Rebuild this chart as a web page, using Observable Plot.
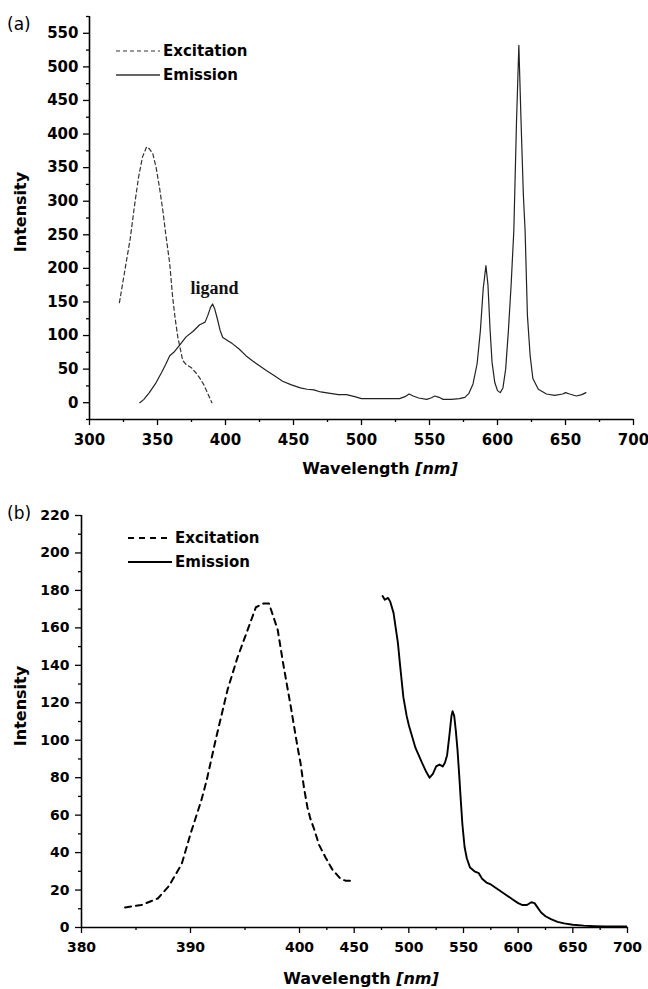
<!DOCTYPE html>
<html><head><meta charset="utf-8">
<script src="https://cdn.jsdelivr.net/npm/d3@7"></script>
<script src="https://cdn.jsdelivr.net/npm/@observablehq/plot@0.6"></script>
<style>
body{margin:0;background:#fff;}
#wrap{width:648px;}
#wrap svg{display:block;}
</style></head><body><div id="wrap"></div>
<script>
// ---------- Panel (a) data: [wavelength nm, intensity] ----------
const excitationA = [[322,149],[326,197],[330,245],[333,292],[336,335],[339,366],[342,381],[344,378],[346.5,371],[349,350],[351.5,320],[354,285],[356,252],[359,207],[361,160],[363,125],[365,97],[367,78],[368.5,63],[371,57],[375,52],[378,45],[381,37],[384,27],[386,18],[388,9],[390,0]];
const emissionA = [[337,0],[340,5],[344,15],[349,30],[353,45],[356,57],[359,70],[362,75],[366,85],[371,98],[376,106],[379,112],[381,116],[383,118],[385,120],[387,130],[389,142],[390.5,147],[392,140],[394,125],[396,108],[398,97],[402,92],[405,88],[410,80],[415,70],[420,62],[425,55],[430,48],[436,40],[442,32],[448,27],[455,22],[460,20],[465,19],[470,16],[477,14],[483,12],[489,12],[495,9],[500,6],[510,6],[520,6],[528,6],[532,9],[535,13],[538,10],[542,7],[548,5],[551,7],[554,10],[557,8],[560,5],[566,5],[572,6],[576,8],[579,14],[582,28],[585,58],[587.4,107],[589.5,170],[591.5,204],[593,175],[594.5,110],[596,60],[598,30],[600,18],[602,15],[604,22],[606,50],[608,107],[610,175],[612,256],[614,420],[615.7,532],[617.3,420],[619,310],[620.3,256],[622,130],[624,70],[626,36],[630,20],[636,13],[642,11],[648,13],[650,15],[653,13],[658,10],[662,12],[665,15]];
const annotationA = [{wavelength: 392, intensity: 170, label: "ligand"}];
const xMajorA = [300,350,400,450,500,550,600,650,700];
const xMinorA = [325,375,425,475,525,575,625,675];
const yMajorA = [0,50,100,150,200,250,300,350,400,450,500,550];
const yMinorA = [-25,25,75,125,175,225,275,325,375,425,475,525,575];

// ---------- Panel (b) data ----------
const excitationB = [[384,10.7],[385.5,12],[387,15.5],[388,22],[389.2,34],[390,50],[391,68],[391.5,79],[392.3,100],[393.4,127],[394.3,144],[395.5,163],[396,171],[396.7,173],[397.2,173],[398,159],[398.5,141],[399.2,118],[399.8,97],[400.9,88],[404,75],[407.3,64],[410,58],[412.8,53.5],[418,44],[423.8,37.4],[430,31],[437.5,26],[442,25],[449.4,25]];
const emissionB = [[476,177],[478,175],[481,176],[483,174],[486,168],[488,160],[490,152],[492,140],[495,123],[498,113],[500,108],[503,102],[506,96],[509,92],[512,88],[516,83],[519,80],[522,82],[525,86],[528,87],[531,86],[533,88],[535,92],[537,102],[539,113],[540,115.5],[541.5,113],[543,105],[544.5,95],[546,82],[547.5,68],[549,55],[551,43],[553,37],[556,32],[560,30],[564,29],[567,26],[571,24],[575,23],[580,21],[585,19],[590,17],[595,15],[600,13],[604,12],[608,12],[612,13.5],[615,13],[618,10.5],[621,8],[625,6],[630,4.5],[636,3],[642,2.2],[650,1.5],[660,1],[670,0.7],[680,0.5],[690,0.5],[699,0.5]];
const xMajorB = [380,390,400,450,500,550,600,650,700];
const xMinorB = [385,395,425,475,525,575,625,675];
const yMajorB = [0,20,40,60,80,100,120,140,160,180,200,220];
const yMinorB = [10,30,50,70,90,110,130,150,170,190,210];

const legendLabels = ["Excitation", "Emission"];
const blank = () => "";

// ---------- Panel (a) ----------
const plotA = Plot.plot({
  width: 648, height: 494,
  marginLeft: 89, marginRight: 15, marginTop: 16, marginBottom: 75,
  x: {domain: [300, 700]},
  y: {domain: [-25, 575]},
  style: {fontFamily: "DejaVu Sans", fontWeight: "bold", fontSize: "15px", color: "#000", background: "#fff", overflow: "visible"},
  marks: [
    Plot.axisX(xMajorA, {tickSize: 6, tickPadding: 9, label: null, strokeWidth: 1.3}),
    Plot.axisX(xMinorA, {tickSize: 3, tickFormat: blank, label: null, strokeWidth: 1.3}),
    Plot.axisY(yMajorA, {tickSize: 6, tickPadding: 5, label: null, strokeWidth: 1.3}),
    Plot.axisY(yMinorA, {tickSize: 3, tickFormat: blank, label: null, strokeWidth: 1.3}),
    Plot.ruleX([300], {strokeWidth: 1.6}),
    Plot.ruleY([-25], {strokeWidth: 1.6}),
    Plot.line(excitationA, {stroke: "#333", strokeWidth: 1.2, strokeDasharray: "4,3"}),
    Plot.line(emissionA, {stroke: "#222", strokeWidth: 1.2}),
    Plot.text(annotationA, {x: "wavelength", y: "intensity", text: "label", fontFamily: "Liberation Serif", fontWeight: "bold", fontSize: 18, fill: "#111"})
  ]
});

// ---------- Panel (b): broken wavelength axis (380–400 expanded, 400–700 compressed) ----------
const plotB = Plot.plot({
  width: 648, height: 495,
  marginLeft: 81, marginRight: 21, marginTop: 21, marginBottom: 62,
  x: {type: "linear", domain: [380, 400, 700], range: [81, 299, 627]},
  y: {domain: [0, 220]},
  style: {fontFamily: "DejaVu Sans", fontWeight: "bold", fontSize: "14px", color: "#000", background: "#fff", overflow: "visible"},
  marks: [
    Plot.axisX(xMajorB, {tickSize: 6, tickPadding: 9, label: null, strokeWidth: 1.3}),
    Plot.axisX(xMinorB, {tickSize: 3, tickFormat: blank, label: null, strokeWidth: 1.3}),
    Plot.axisY(yMajorB, {tickSize: 6, tickPadding: 6, label: null, strokeWidth: 1.3}),
    Plot.axisY(yMinorB, {tickSize: 3, tickFormat: blank, label: null, strokeWidth: 1.3}),
    Plot.ruleX([380], {strokeWidth: 1.6}),
    Plot.ruleY([0], {strokeWidth: 1.6}),
    Plot.line(excitationB, {stroke: "#000", strokeWidth: 2, strokeDasharray: "6,5"}),
    Plot.line(emissionB, {stroke: "#000", strokeWidth: 1.9})
  ]
});

function decorate(svg, o) {
  const s = d3.select(svg);
  s.append("text").attr("x", 7).attr("y", o.tagY).attr("text-anchor", "start").attr("font-family", "DejaVu Sans").attr("font-weight", "normal")
    .attr("font-size", 17).attr("fill", "#000").text(o.tag);
  // legend
  const g = s.append("g").attr("text-anchor", "start").attr("font-family", "DejaVu Sans").attr("font-weight", "bold").attr("font-size", 15);
  o.legendY.forEach((ly, i) => {
    g.append("line").attr("x1", o.legX1).attr("x2", o.legX2).attr("y1", ly).attr("y2", ly)
      .attr("stroke", o.stroke).attr("stroke-width", o.legW[i]).attr("stroke-dasharray", i === 0 ? o.dash : null);
    g.append("text").attr("x", o.legX2 + 3).attr("y", ly).attr("dy", "0.36em").attr("fill", "#000").text(legendLabels[i]);
  });
  // x title
  const t = s.append("text").attr("x", o.xTitleX).attr("y", o.xTitleY).attr("text-anchor", "middle")
    .attr("font-family", "DejaVu Sans").attr("font-weight", "bold").attr("font-size", 16).attr("fill", "#000");
  t.append("tspan").text("Wavelength ");
  t.append("tspan").attr("font-style", "italic").text("[nm]");
  // y title
  s.append("text").attr("transform", `translate(${o.yTitleX},${o.yTitleY}) rotate(-90)`).attr("text-anchor", "middle")
    .attr("font-family", "DejaVu Sans").attr("font-weight", "bold").attr("font-size", 16).attr("fill", "#000").text("Intensity");
}

decorate(plotA, {tag: "(a)", tagY: 30, legendY: [51, 75], legX1: 116, legX2: 160, legW: [1.2, 1.3], stroke: "#333", dash: "4,3",
  xTitleX: 380, xTitleY: 474, yTitleX: 26, yTitleY: 212});
decorate(plotB, {tag: "(b)", tagY: 25, legendY: [44, 68], legX1: 128, legX2: 172, legW: [2, 2], stroke: "#000", dash: "6,5",
  xTitleX: 361, xTitleY: 490, yTitleX: 26, yTitleY: 212});

document.getElementById("wrap").append(plotA, plotB);
</script>
</body></html>
